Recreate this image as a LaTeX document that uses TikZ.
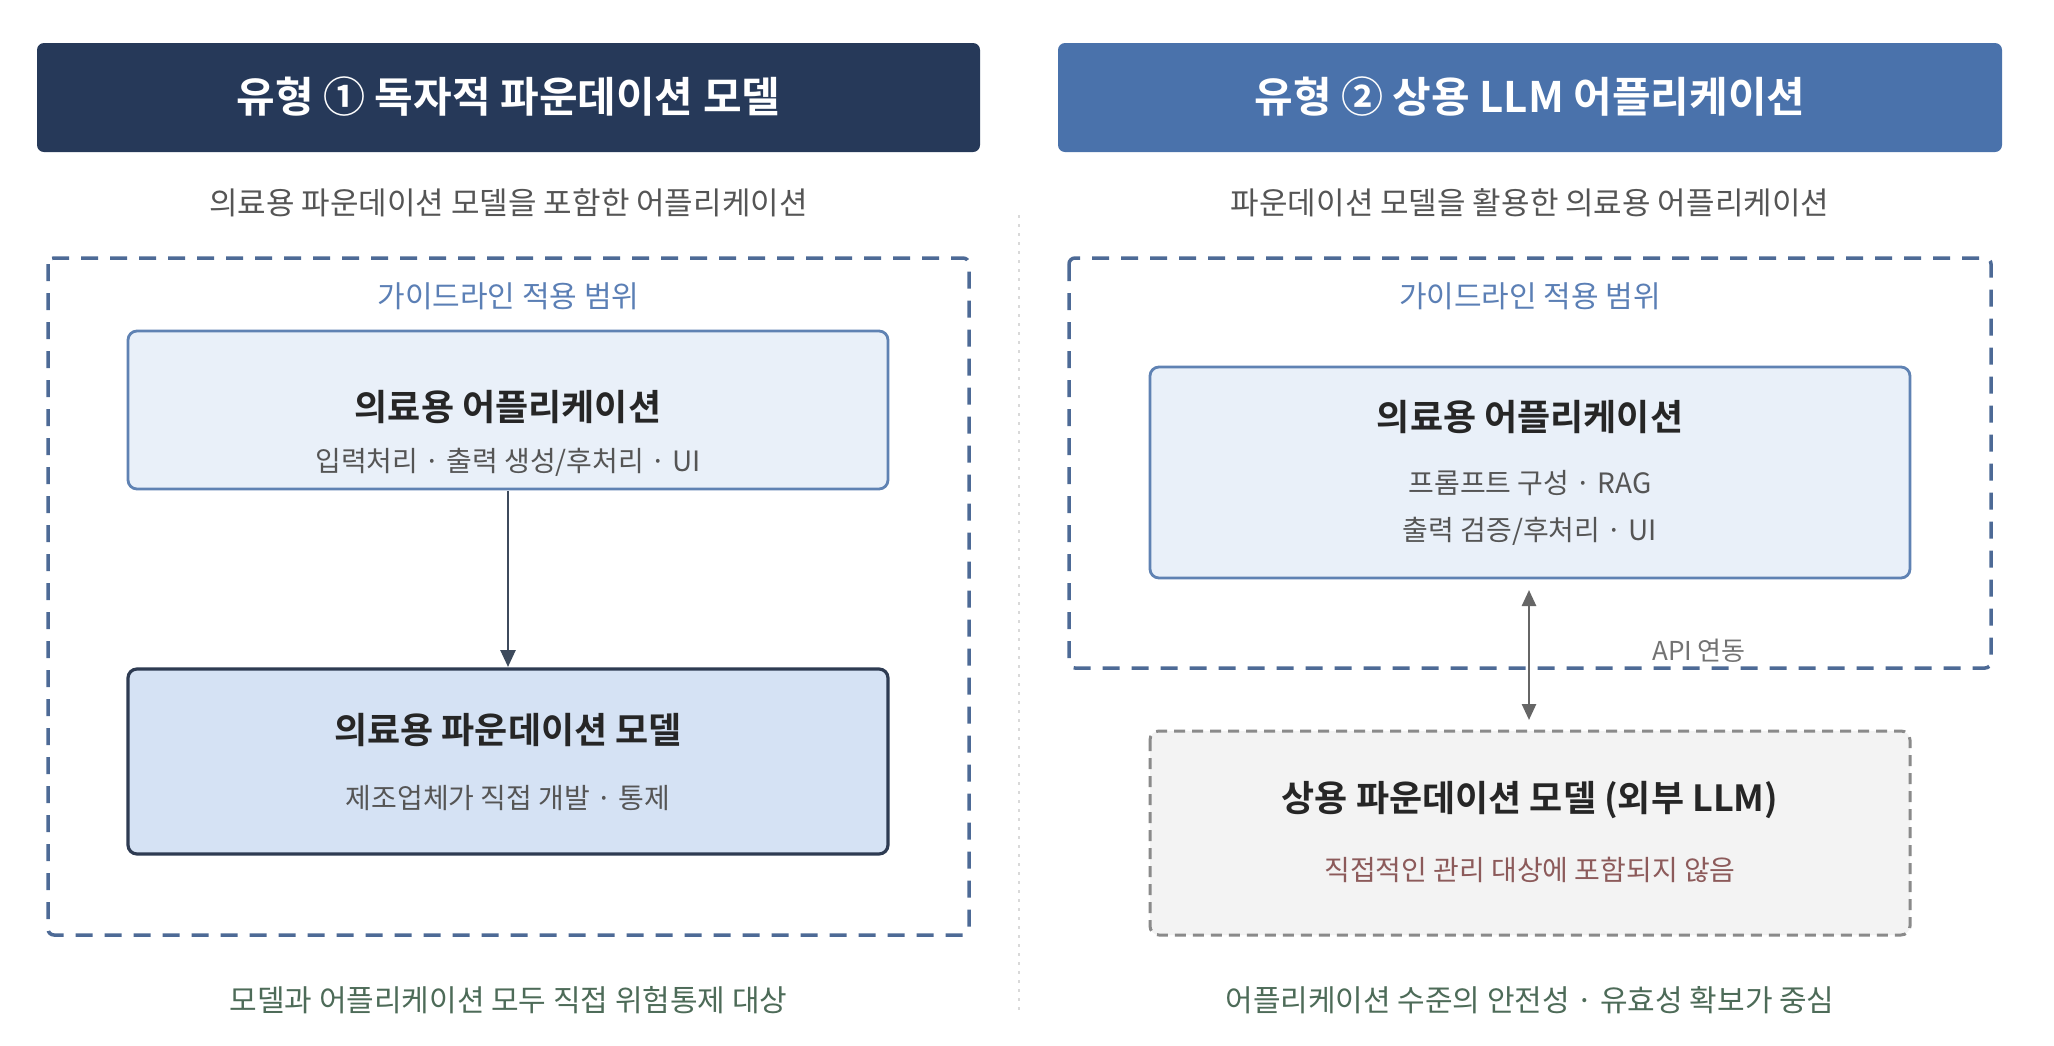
\documentclass[tikz,border=0pt]{standalone}
\usepackage{fontspec}
\setmainfont{Noto Sans CJK KR}[BoldFont={Noto Sans CJK KR Bold}]
\usetikzlibrary{arrows.meta}
\definecolor{hdrA}{HTML}{263959}
\definecolor{hdrB}{HTML}{4A72AB}
\definecolor{dashblue}{HTML}{4D6A96}
\definecolor{guide}{HTML}{5B7FB5}
\definecolor{appfill}{HTML}{E9F0F9}
\definecolor{appline}{HTML}{5F82B3}
\definecolor{modfill}{HTML}{D5E2F4}
\definecolor{modline}{HTML}{2E3B52}
\definecolor{subgray}{HTML}{555555}
\definecolor{foot}{HTML}{4D6B58}
\definecolor{extfill}{HTML}{F3F3F3}
\definecolor{extline}{HTML}{8A8A8A}
\definecolor{extred}{HTML}{8C5A5A}
\definecolor{arrowdark}{HTML}{3D4A5C}
\tikzset{
  px/.style={x=1pt,y=-1pt},
  header/.style={text=white, font=\bfseries\fontsize{42}{48}\selectfont},
  subtitle/.style={text=subgray, font=\fontsize{31}{36}\selectfont},
  guidetxt/.style={text=guide, font=\fontsize{30}{34}\selectfont},
  scopebox/.style={draw=dashblue, line width=3.5pt, dash pattern=on 17pt off 12pt, rounded corners=6pt},
  appbox/.style={draw=appline, fill=appfill, line width=2.8pt, rounded corners=9pt},
  modbox/.style={draw=modline, fill=modfill, line width=3.2pt, rounded corners=9pt},
  extbox/.style={draw=extline, fill=extfill, line width=3pt, dash pattern=on 11pt off 7pt, rounded corners=9pt},
  ttl/.style={font=\bfseries\fontsize{36}{42}\selectfont, text=black!85},
  sub/.style={text=subgray, font=\fontsize{28}{32}\selectfont},
  foottxt/.style={text=foot, font=\fontsize{30}{34}\selectfont},
}
\begin{document}
\begin{tikzpicture}[px]
\useasboundingbox (0,0) rectangle (2054,1045);
\fill[white] (0,0) rectangle (2054,1045);

% divider
\draw[black!15, line width=2pt, dash pattern=on 3pt off 6pt] (1019,215) -- (1019,1015);

% ===== left =====
\fill[hdrA, rounded corners=7pt] (37,43) rectangle (980,152);
\node[header] (h1) at (508.5,97) {유형 ① 독자적 파운데이션 모델};
\node[subtitle] (s1) at (508.5,203) {의료용 파운데이션 모델을 포함한 어플리케이션};
\draw[scopebox] (48,258) rectangle (969,935);
\node[guidetxt] (g1) at (508.5,296) {가이드라인 적용 범위};

\draw[appbox] (128,331) rectangle (888,489);
\node[ttl] (a1t) at (508,407) {의료용 어플리케이션};
\node[sub] (a1s) at (508,462) {입력처리 · 출력 생성/후처리 · UI};
\coordinate (a1b) at (508,491);

\draw[modbox] (128,669) rectangle (888,854);
\node[ttl] (m1t) at (508,730) {의료용 파운데이션 모델};
\node[sub] (m1s) at (508,798) {제조업체가 직접 개발 · 통제};
\coordinate (m1top) at (508,667);

\draw[arrowdark, line width=2.6pt, -{Triangle[length=17pt,width=15pt]}] (a1b) -- (m1top);

\node[foottxt] (f1) at (508.5,1000) {모델과 어플리케이션 모두 직접 위험통제 대상};

% ===== right =====
\fill[hdrB, rounded corners=7pt] (1058,43) rectangle (2002,152);
\node[header] (h2) at (1530,97) {유형 ② 상용 LLM 어플리케이션};
\node[subtitle] (s2) at (1530,203) {파운데이션 모델을 활용한 의료용 어플리케이션};
\draw[scopebox] (1069,258) rectangle (1991,668);
\node[guidetxt] (g2) at (1530,296) {가이드라인 적용 범위};

\draw[appbox] (1150,367) rectangle (1910,578);
\node[ttl] (a2t) at (1530,417) {의료용 어플리케이션};
\node[sub] (a2s1) at (1530,483) {프롬프트 구성 · RAG};
\node[sub] (a2s2) at (1530,531) {출력 검증/후처리 · UI};
\coordinate (a2b) at (1529,590);

\draw[extbox] (1150,731) rectangle (1910,935);
\node[ttl] (e2t) at (1530,800) {상용 파운데이션 모델 (외부 LLM)};
\node[text=extred, font=\fontsize{28}{32}\selectfont] (e2s) at (1530,870) {직접적인 관리 대상에 포함되지 않음};
\coordinate (e2top) at (1529,720);

\draw[black!60, line width=2.6pt, {Triangle[length=16pt,width=14pt]}-{Triangle[length=16pt,width=14pt]}] (a2b) -- (e2top);
\node[text=black!55, font=\fontsize{26}{30}\selectfont] (api) at (1699,651) {API 연동};

\node[foottxt] (f2) at (1530,1000) {어플리케이션 수준의 안전성 · 유효성 확보가 중심};
\end{tikzpicture}
\end{document}
